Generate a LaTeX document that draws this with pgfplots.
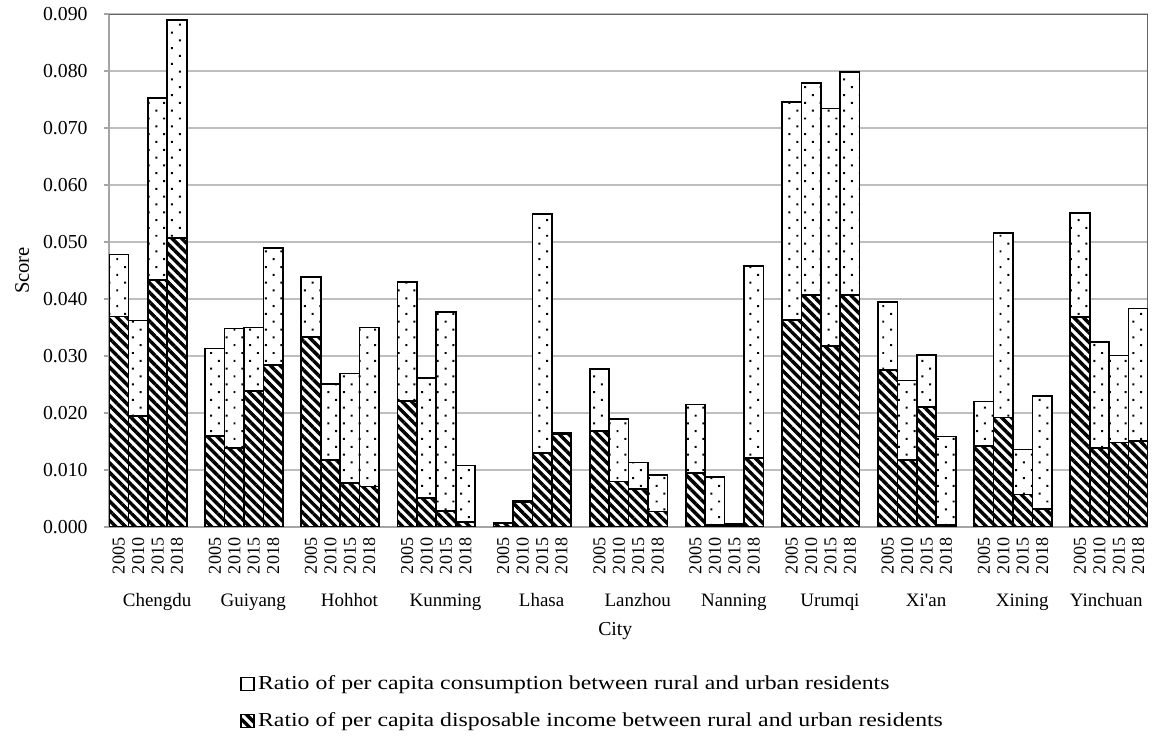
\documentclass[border=0pt]{standalone}
\usepackage{pgfplots}
\pgfplotsset{compat=1.18}
\usepackage{pgfplotstable}
\usepackage{graphicx}
\usepackage{fontspec}
\setmainfont{Liberation Serif}
\usetikzlibrary{patterns.meta}

\definecolor{gridgray}{RGB}{190,190,190}
\definecolor{axisgray}{RGB}{165,165,165}
\definecolor{framegray}{RGB}{100,100,100}

% x = position of the bar, inc = income ratio part, con = consumption ratio part
\pgfplotstableread{
x      inc     con
0.5    0.0369  0.0109
1.5    0.0195  0.0167
2.5    0.0433  0.0320
3.5    0.0507  0.0383
5.45   0.0160  0.0153
6.45   0.0138  0.0210
7.45   0.0239  0.0111
8.45   0.0284  0.0206
10.4   0.0333  0.0106
11.4   0.0117  0.0134
12.4   0.0077  0.0192
13.4   0.0071  0.0279
15.35  0.0221  0.0209
16.35  0.0051  0.0210
17.35  0.0028  0.0349
18.35  0.0009  0.0099
20.3   0.0006  0.0002
21.3   0.0043  0.0002
22.3   0.0130  0.0419
23.3   0.0163  0.0002
25.25  0.0168  0.0109
26.25  0.0080  0.0109
27.25  0.0067  0.0046
28.25  0.0027  0.0064
30.2   0.0095  0.0120
31.2   0.0003  0.0085
32.2   0.0004  0.0002
33.2   0.0121  0.0337
35.15  0.0363  0.0383
36.15  0.0407  0.0372
37.15  0.0318  0.0416
38.15  0.0407  0.0391
40.1   0.0275  0.0120
41.1   0.0118  0.0139
42.1   0.0210  0.0092
43.1   0.0004  0.0155
45.05  0.0142  0.0078
46.05  0.0192  0.0324
47.05  0.0057  0.0079
48.05  0.0031  0.0199
50.0   0.0368  0.0183
51.0   0.0139  0.0185
52.0   0.0148  0.0153
53.0   0.0151  0.0232
}\data

\begin{document}
\begin{tikzpicture}
\begin{axis}[
  scale only axis,
  width=629.7pt, height=310.9pt,
  xmin=0, xmax=53.5, ymin=0, ymax=0.09,
  ybar stacked, bar width=1,
  axis x line*=bottom, axis y line*=left,
  axis line style={draw=axisgray, line width=1pt},
  ymajorgrids, major grid style={draw=gridgray, line width=1pt},
  ytick={0,0.01,0.02,0.03,0.04,0.05,0.06,0.07,0.08,0.09},
  scaled y ticks=false,
  yticklabel style={/pgf/number format/fixed, /pgf/number format/fixed zerofill,
    /pgf/number format/precision=3, /pgf/number format/assume math mode=true,
    font=\fontsize{12}{14}\selectfont, xshift=-6.5pt},
  tick align=outside,
  ytick style={draw=axisgray, line width=1pt},
  major tick length=3pt,
  xtick style={draw=none},
  xtick=data,
  xticklabels={2005,2010,2015,2018,2005,2010,2015,2018,2005,2010,2015,2018,2005,2010,2015,2018,2005,2010,2015,2018,2005,2010,2015,2018,2005,2010,2015,2018,2005,2010,2015,2018,2005,2010,2015,2018,2005,2010,2015,2018,2005,2010,2015,2018},
  xticklabel style={rotate=90, anchor=east, font=\fontsize{11}{13}\selectfont},
  extra x ticks={2.475,7.425,12.375,17.325,22.275,27.225,32.175,37.125,42.075,47.025,51.35},
  extra x tick labels={Chengdu,Guiyang,Hohhot,Kunming,Lhasa,Lanzhou,Nanning,Urumqi,Xi\textquotesingle an,Xining,Yinchuan},
  extra x tick style={grid=none, major tick length=0pt,
    xticklabel style={rotate=-90, anchor=base, yshift=-48pt, font=\fontsize{11.5}{13}\selectfont}},
  xlabel={City},
  xlabel style={at={(rel axis cs:0.5,0)}, anchor=base, yshift=-66pt, xshift=-8pt, font=\fontsize{12}{14}\selectfont},
  ylabel={Score},
  ylabel style={at={(rel axis cs:0,0.5)}, anchor=center, yshift=52.7pt, font=\fontsize{12.5}{14}\selectfont},
  reverse legend,
  legend cell align=left,
  legend style={draw=none, fill=none, at={(0.126,-0.283)}, anchor=north west,
    font=\fontsize{12}{14}\selectfont, row sep=8.5pt, inner sep=0pt},
  legend image code/.code={\draw[#1, line width=0.8pt] (0pt,-4pt) rectangle (8pt,4pt);},
]
\addplot[draw=black, line width=1pt, fill=white,
  postaction={pattern={Lines[angle=-45, distance=4.1pt, line width=2.1pt]}}]
  table[x=x, y=inc]{\data};
\addlegendentry{\scalebox{1.2}[1]{Ratio of per capita disposable income between rural and urban residents}}
\addplot[draw=black, line width=1pt, fill=white, forget plot,
  postaction={pattern={Dots[angle=45, distance=6.7pt, radius=0.85pt]}}]
  table[x=x, y=con]{\data};
\addlegendimage{draw=black, fill=white}
\addlegendentry{\scalebox{1.2}[1]{Ratio of per capita consumption between rural and urban residents}}
\draw[framegray, line width=1pt] (rel axis cs:0,1) -- (rel axis cs:1,1) -- (rel axis cs:1,0);
\coordinate (SW) at (rel axis cs:0,0);
\coordinate (NE) at (rel axis cs:1,1);
\end{axis}
\pgfresetboundingbox
\path[use as bounding box] ([shift={(-66.1pt,-126.7pt)}]SW) rectangle ([shift={(8.5pt,8.5pt)}]NE);
\end{tikzpicture}
\end{document}
